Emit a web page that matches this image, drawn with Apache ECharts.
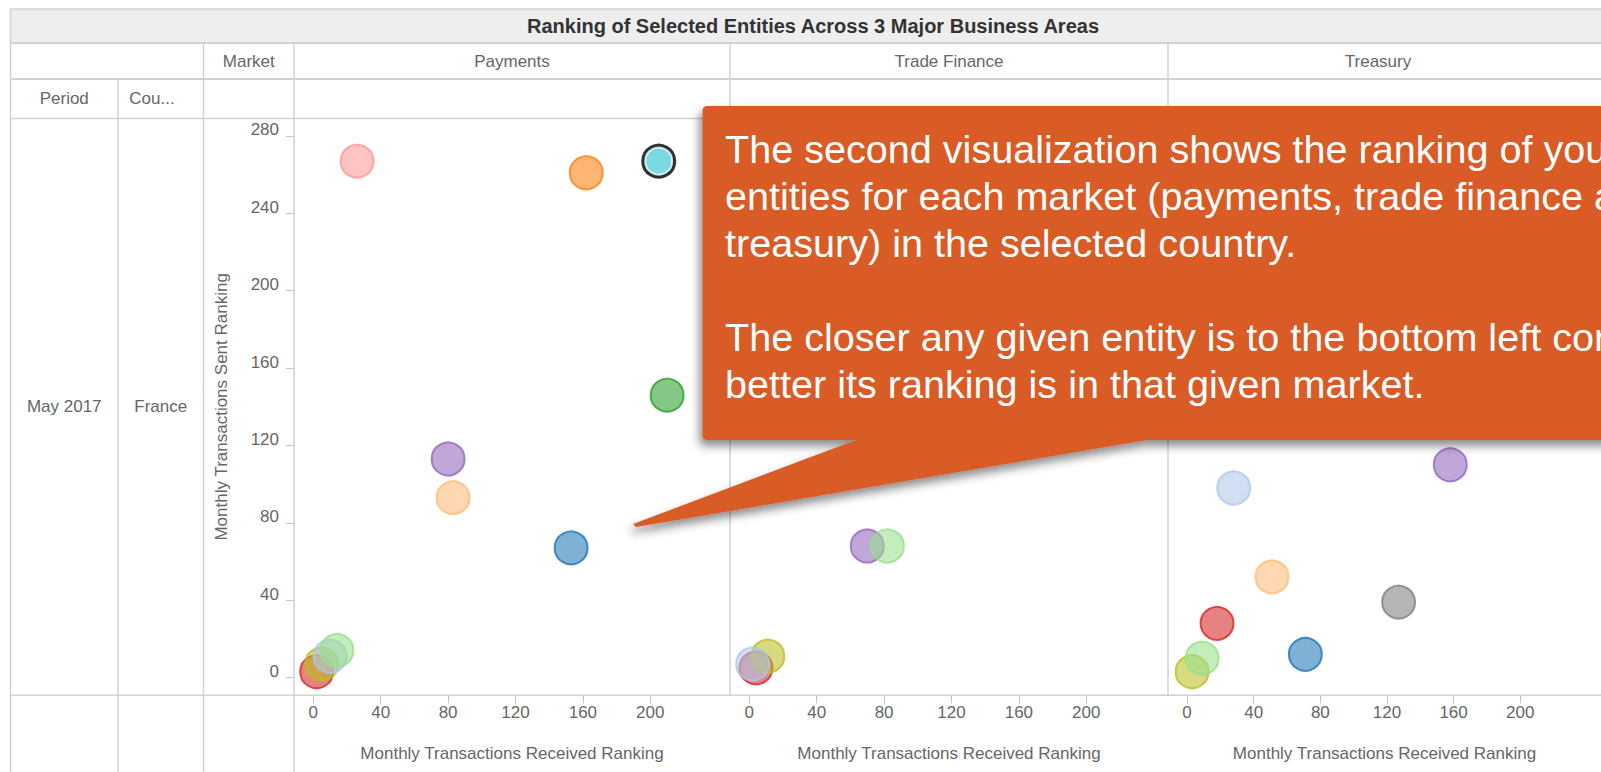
<!DOCTYPE html>
<html>
<head>
<meta charset="utf-8">
<title>Ranking of Selected Entities Across 3 Major Business Areas</title>
<script src="https://cdn.jsdelivr.net/npm/echarts@6/dist/echarts.min.js"></script>
<style>
    html, body { margin: 0; padding: 0; background: #fff; }
    #chart { width: 1601px; height: 772px; }
</style>
</head>
<body>
<div id="chart"></div>
<script>
    // texts of the table
    const title = 'Ranking of Selected Entities Across 3 Major Business Areas';
    const markets = ['Payments', 'Trade Finance', 'Treasury'];
    const period = 'May 2017';
    const country = 'France';
    const xTitle = 'Monthly Transactions Received Ranking';
    const yTitle = 'Monthly Transactions Sent Ranking';
    const xTicks = [0, 40, 80, 120, 160, 200];
    const yTicks = [0, 40, 80, 120, 160, 200, 240, 280];

    // entities, in drawing order (bottom to top)
    const entities = ['Entity 1', 'Entity 2', 'Entity 3', 'Entity 4', 'Entity 5', 'Entity 6',
                      'Entity 7', 'Entity 8', 'Entity 9', 'Entity 10', 'Entity 11', 'Entity 12'];
    const selectedEntity = 'Entity 8';

    // [received ranking, sent ranking] per entity, null = not visible
    const payments = [[153, 67], [162, 261], [83, 93], [210, 146], [80, 113], null,
                      [26, 267], [205, 267], [2, 3], [5, 7], [10, 11], [14, 14]];
    const tradeFinance = [null, null, null, null, [70, 68], null,
                          null, null, [4, 5], [11, 11], [2, 7], [82, 68]];
    const treasury = [[71, 12], null, [51, 52], null, [158, 110], [127, 39],
                      null, null, [18, 28], [3, 3], [28, 98], [9, 10]];

    const calloutText = [
        'The second visualization shows the ranking of your',
        'entities for each market (payments, trade finance and',
        'treasury) in the selected country.',
        '',
        'The closer any given entity is to the bottom left corner, the',
        'better its ranking is in that given market.'
    ];

    // styles
    const palette = ['#1f77b4', '#ff7f0e', '#ffbb78', '#2ca02c', '#9467bd', '#7f7f7f',
                     '#ff9896', '#17becf', '#d62728', '#bcbd22', '#aec7e8', '#98df8a'];
    const font = 'Arial, "Liberation Sans", sans-serif';
    const lineColor = '#d2d2d2';
    const textColor = '#666';

    function rgba(hex, a) {
        const n = parseInt(hex.slice(1), 16);
        return 'rgba(' + (n >> 16) + ',' + ((n >> 8) & 255) + ',' + (n & 255) + ',' + a + ')';
    }

    const gridTop = 118.4;
    const gridHeight = 576.9;
    const grids = [
        { left: 294, top: gridTop, width: 436, height: gridHeight },
        { left: 730, top: gridTop, width: 438, height: gridHeight },
        { left: 1168, top: gridTop, width: 438, height: gridHeight }
    ];
    const xMax = [247.3, 248.5, 248.5];

    const xAxes = grids.map((g, i) => ({
        type: 'value',
        gridIndex: i,
        min: -11.45,
        max: xMax[i],
        axisLine: { show: false, onZero: false },
        splitLine: { show: false },
        axisTick: { show: true, customValues: xTicks, length: 8, lineStyle: { color: '#c4c4c4' } },
        axisLabel: { customValues: xTicks, color: textColor, fontSize: 17, fontFamily: font, margin: 9 },
        name: xTitle,
        nameLocation: 'middle',
        nameGap: 50,
        nameTextStyle: { color: textColor, fontSize: 17, fontFamily: font }
    }));

    const yAxes = grids.map((g, i) => {
        const axis = {
            type: 'value',
            gridIndex: i,
            min: -9.2,
            max: 289.1,
            show: i === 0,
            axisLine: { show: false, onZero: false },
            splitLine: { show: false },
            axisTick: { show: true, customValues: yTicks, length: 8, lineStyle: { color: '#c4c4c4' } },
            axisLabel: { customValues: yTicks, color: textColor, fontSize: 17, fontFamily: font,
                         margin: 15, verticalAlign: 'bottom', lineHeight: 12 }
        };
        if (i === 0) {
            axis.name = yTitle;
            axis.nameLocation = 'middle';
            axis.nameGap = 64;
            axis.nameTextStyle = { color: textColor, fontSize: 17, fontFamily: font };
        }
        return axis;
    });

    const series = [];
    [payments, tradeFinance, treasury].forEach((points, gi) => {
        const data = [];
        points.forEach((p, i) => {
            if (!p) return;
            const sel = entities[i] === selectedEntity;
            data.push({
                name: entities[i],
                value: p,
                symbolSize: sel ? 31 : 33,
                itemStyle: {
                    color: rgba(palette[i], 0.72),
                    borderColor: sel ? '#000' : palette[i],
                    borderWidth: sel ? 4 : 2
                }
            });
        });
        series.push({
            type: 'scatter',
            name: markets[gi],
            xAxisIndex: gi,
            yAxisIndex: gi,
            symbol: 'circle',
            data: data,
            silent: true,
            z: 3
        });
        // white inner ring of the selected entity
        const si = entities.indexOf(selectedEntity);
        if (points[si]) {
            series.push({
                type: 'scatter',
                xAxisIndex: gi,
                yAxisIndex: gi,
                symbol: 'circle',
                symbolSize: 27,
                data: [points[si]],
                itemStyle: { color: 'rgba(0,0,0,0)', borderColor: '#fff', borderWidth: 2 },
                silent: true,
                z: 4
            });
        }
    });

    // table drawing
    const W = 1601;
    const H = 772;
    const rows = { top: 9, title: 43, market: 79, head: 118.4, axis: 695.3 };
    const cols = [10.5, 118, 203.5, 294, 730, 1168];

    function hLine(y, x1, x2, w) {
        return { type: 'line', z: 1, silent: true,
                 shape: { x1: x1, y1: y, x2: x2, y2: y },
                 style: { stroke: lineColor, lineWidth: w || 1.5 } };
    }
    function vLine(x, y1, y2) {
        return { type: 'line', z: 1, silent: true,
                 shape: { x1: x, y1: y1, x2: x, y2: y2 },
                 style: { stroke: lineColor, lineWidth: 1.5 } };
    }
    function label(text, x, y, opts) {
        return { type: 'text', z: 2, silent: true, x: x, y: y,
                 style: Object.assign({ text: text, fill: textColor, font: '17px ' + font,
                                        align: 'center', verticalAlign: 'middle' }, opts || {}) };
    }

    const graphics = [
        { type: 'rect', z: 0, silent: true,
          shape: { x: cols[0], y: rows.top, width: W - cols[0], height: rows.title - rows.top },
          style: { fill: '#eeeeee' } },
        hLine(rows.top, cols[0], W, 1.5),
        hLine(rows.title, cols[0], W, 2),
        hLine(rows.market, cols[0], W, 2),
        hLine(rows.head, cols[0], W, 1.5),
        hLine(rows.axis, cols[0], W, 1.5),
        vLine(cols[0], rows.top, H),
        vLine(cols[1], rows.market, rows.axis),
        vLine(cols[1], rows.axis, H),
        vLine(cols[2], rows.title, H),
        vLine(cols[3], rows.title, H),
        vLine(cols[4], rows.title, rows.axis),
        vLine(cols[5], rows.title, rows.axis),
        label(title, 813, 26, { fill: '#333', font: 'bold 20px ' + font }),
        label('Market', (cols[2] + cols[3]) / 2, 61),
        label(markets[0], (cols[3] + cols[4]) / 2, 61),
        label(markets[1], (cols[4] + cols[5]) / 2, 61),
        label(markets[2], cols[5] + 210, 61),
        label('Period', (cols[0] + cols[1]) / 2, 98.5),
        label('Cou...', 152, 98.5),
        label(period, (cols[0] + cols[1]) / 2, 406),
        label(country, (cols[1] + cols[2]) / 2, 406)
    ];

    // callout box with pointer
    graphics.push({
        type: 'polygon', z: 100, silent: true,
        shape: { points: [[706, 106], [1640, 106], [1640, 440], [1147, 440], [636, 527],
                          [633, 524], [856, 440], [706, 440], [703.5, 438.5], [702.5, 436],
                          [702.5, 110], [703.5, 107.5]] },
        style: { fill: '#d95b26', shadowBlur: 10, shadowOffsetX: -3, shadowOffsetY: 6,
                 shadowColor: 'rgba(0,0,0,0.45)' }
    });
    graphics.push({
        type: 'text', z: 101, silent: true, x: 725, y: 125,
        style: { text: calloutText.join('\n'), fill: '#fff', font: '39.6px ' + font,
                 lineHeight: 47, align: 'left', verticalAlign: 'top' }
    });

    const myChart = echarts.init(document.getElementById('chart'), null, { renderer: 'svg' });
    myChart.setOption({
        animation: false,
        grid: grids,
        xAxis: xAxes,
        yAxis: yAxes,
        series: series,
        graphic: { elements: graphics }
    });
</script>
</body>
</html>
